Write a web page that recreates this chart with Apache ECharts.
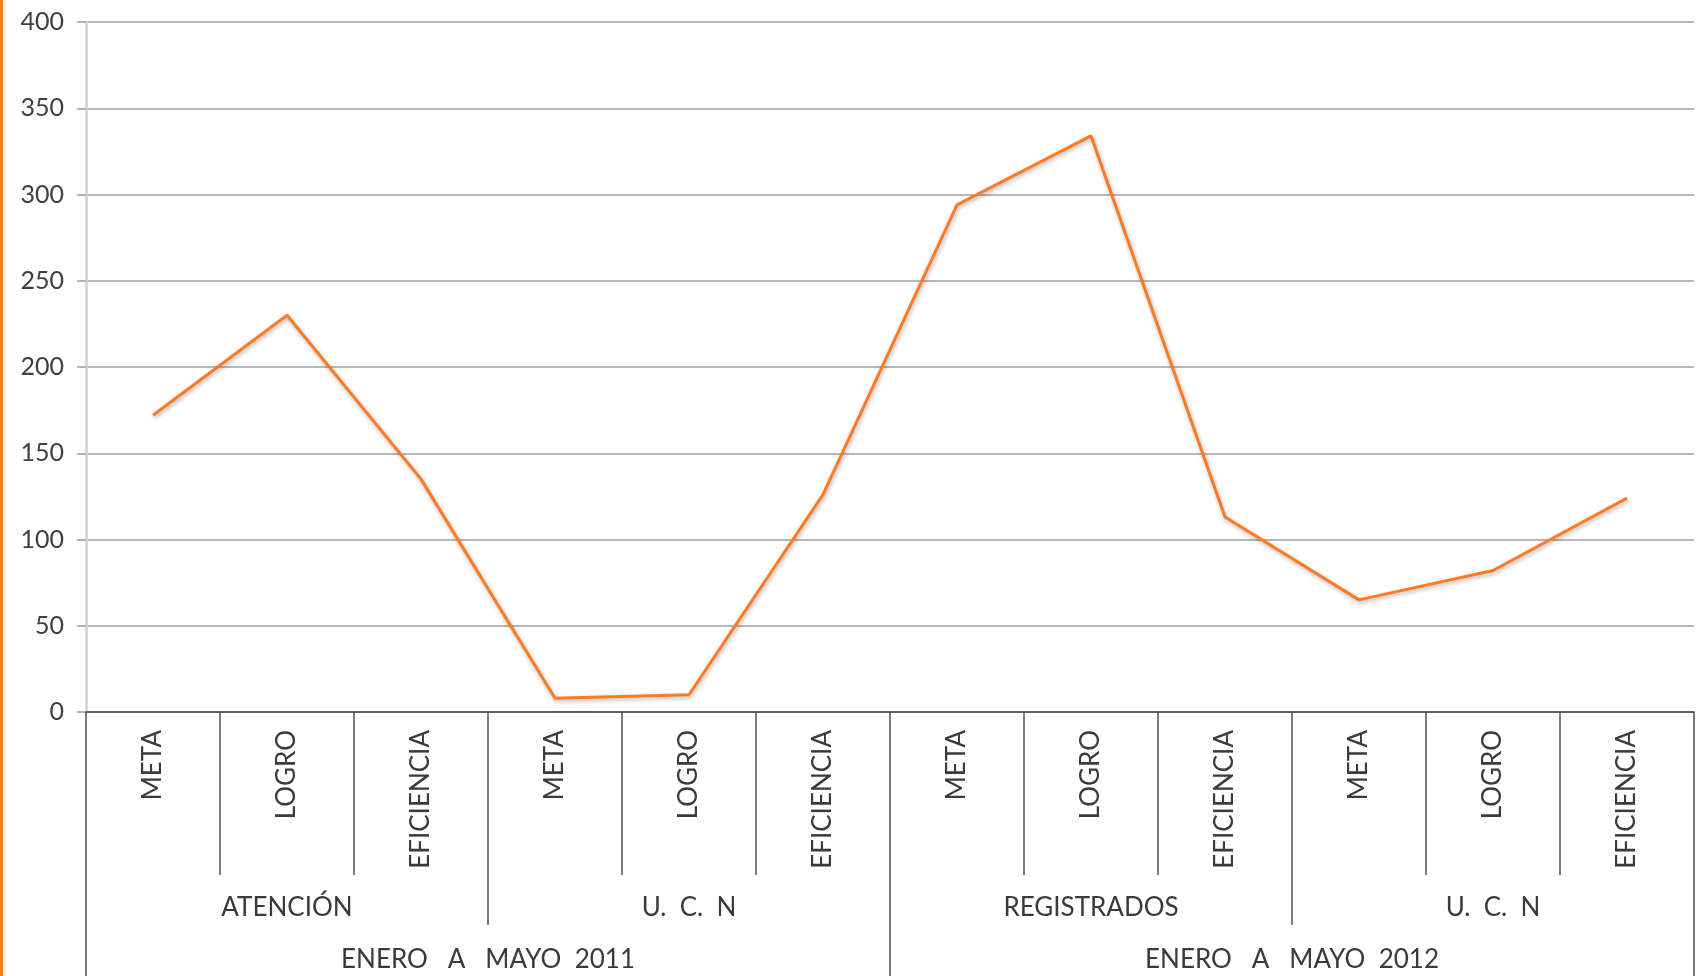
<!DOCTYPE html>
<html>
<head>
<meta charset="utf-8">
<script src="https://cdn.jsdelivr.net/npm/echarts@6/dist/echarts.min.js"></script>
<style>
html,body{margin:0;padding:0;background:#fff;}
#chart{width:1700px;height:976px;}
</style>
</head>
<body>
<div id="chart"></div>
<script>
const categories = ['META','LOGRO','EFICIENCIA','META','LOGRO','EFICIENCIA','META','LOGRO','EFICIENCIA','META','LOGRO','EFICIENCIA'];
const groups = ['ATENCIÓN','U.  C.  N','REGISTRADOS','U.  C.  N'];
const periods = ['ENERO   A   MAYO  2011','ENERO   A   MAYO  2012'];
const values = [172, 230, 135, 8, 10, 126, 294, 334, 113, 65, 82, 124];
const yTicks = [0, 50, 100, 150, 200, 250, 300, 350, 400];

const FONT = 'Lato, "DejaVu Sans", sans-serif';
const chart = echarts.init(document.getElementById('chart'));
chart.setOption({
  backgroundColor: '#ffffff',
  animation: false,
  graphic: [{
    type: 'rect', left: 0, top: 0,
    shape: {x: 0, y: 0, width: 3, height: 976},
    style: {fill: '#F47B20'}
  }],
  grid: {left: 86, right: 6, top: 22, bottom: 264},
  xAxis: [
    {
      type: 'category', data: categories, boundaryGap: true, position: 'bottom',
      axisLine: {show: true, lineStyle: {color: '#404040', width: 1.5}},
      axisTick: {show: true, interval: 0, length: 163, lineStyle: {color: '#505050', width: 1.5}},
      axisLabel: {interval: 0, rotate: 90, margin: 18, fontSize: 26, color: '#3a3a3a', fontFamily: FONT}
    },
    {
      type: 'category', data: groups.map((g, i) => String(i)), boundaryGap: true, position: 'bottom',
      axisLine: {show: false},
      axisTick: {show: true, interval: 0, length: 213, lineStyle: {color: '#505050', width: 1.5}},
      axisLabel: {interval: 0, margin: 183, fontSize: 26, color: '#3a3a3a', fontFamily: FONT,
        formatter: (v, i) => groups[i]}
    },
    {
      type: 'category', data: periods.map((p, i) => String(i)), boundaryGap: true, position: 'bottom',
      axisLine: {show: false},
      axisTick: {show: true, interval: 0, length: 280, lineStyle: {color: '#505050', width: 1.5}},
      axisLabel: {interval: 0, margin: 235, fontSize: 26, color: '#3a3a3a', fontFamily: FONT,
        formatter: (v, i) => periods[i]}
    }
  ],
  yAxis: {
    type: 'value', min: yTicks[0], max: yTicks[yTicks.length - 1], interval: 50,
    axisLine: {show: true, lineStyle: {color: '#d0d0d0', width: 2.5}},
    axisTick: {show: true, length: 9, lineStyle: {color: '#9a9a9a', width: 1.5}},
    axisLabel: {margin: 22, fontSize: 25, color: '#404040', fontFamily: FONT},
    splitLine: {show: true, lineStyle: {color: '#a0a0a0', width: 1.5}}
  },
  series: [{
    type: 'line', data: values, xAxisIndex: 0,
    symbol: 'none', smooth: false,
    lineStyle: {color: '#FF7A21', width: 3, shadowColor: 'rgba(0,0,0,0.3)', shadowBlur: 4, shadowOffsetY: 2, shadowOffsetX: 1}
  }]
});
</script>
</body>
</html>
